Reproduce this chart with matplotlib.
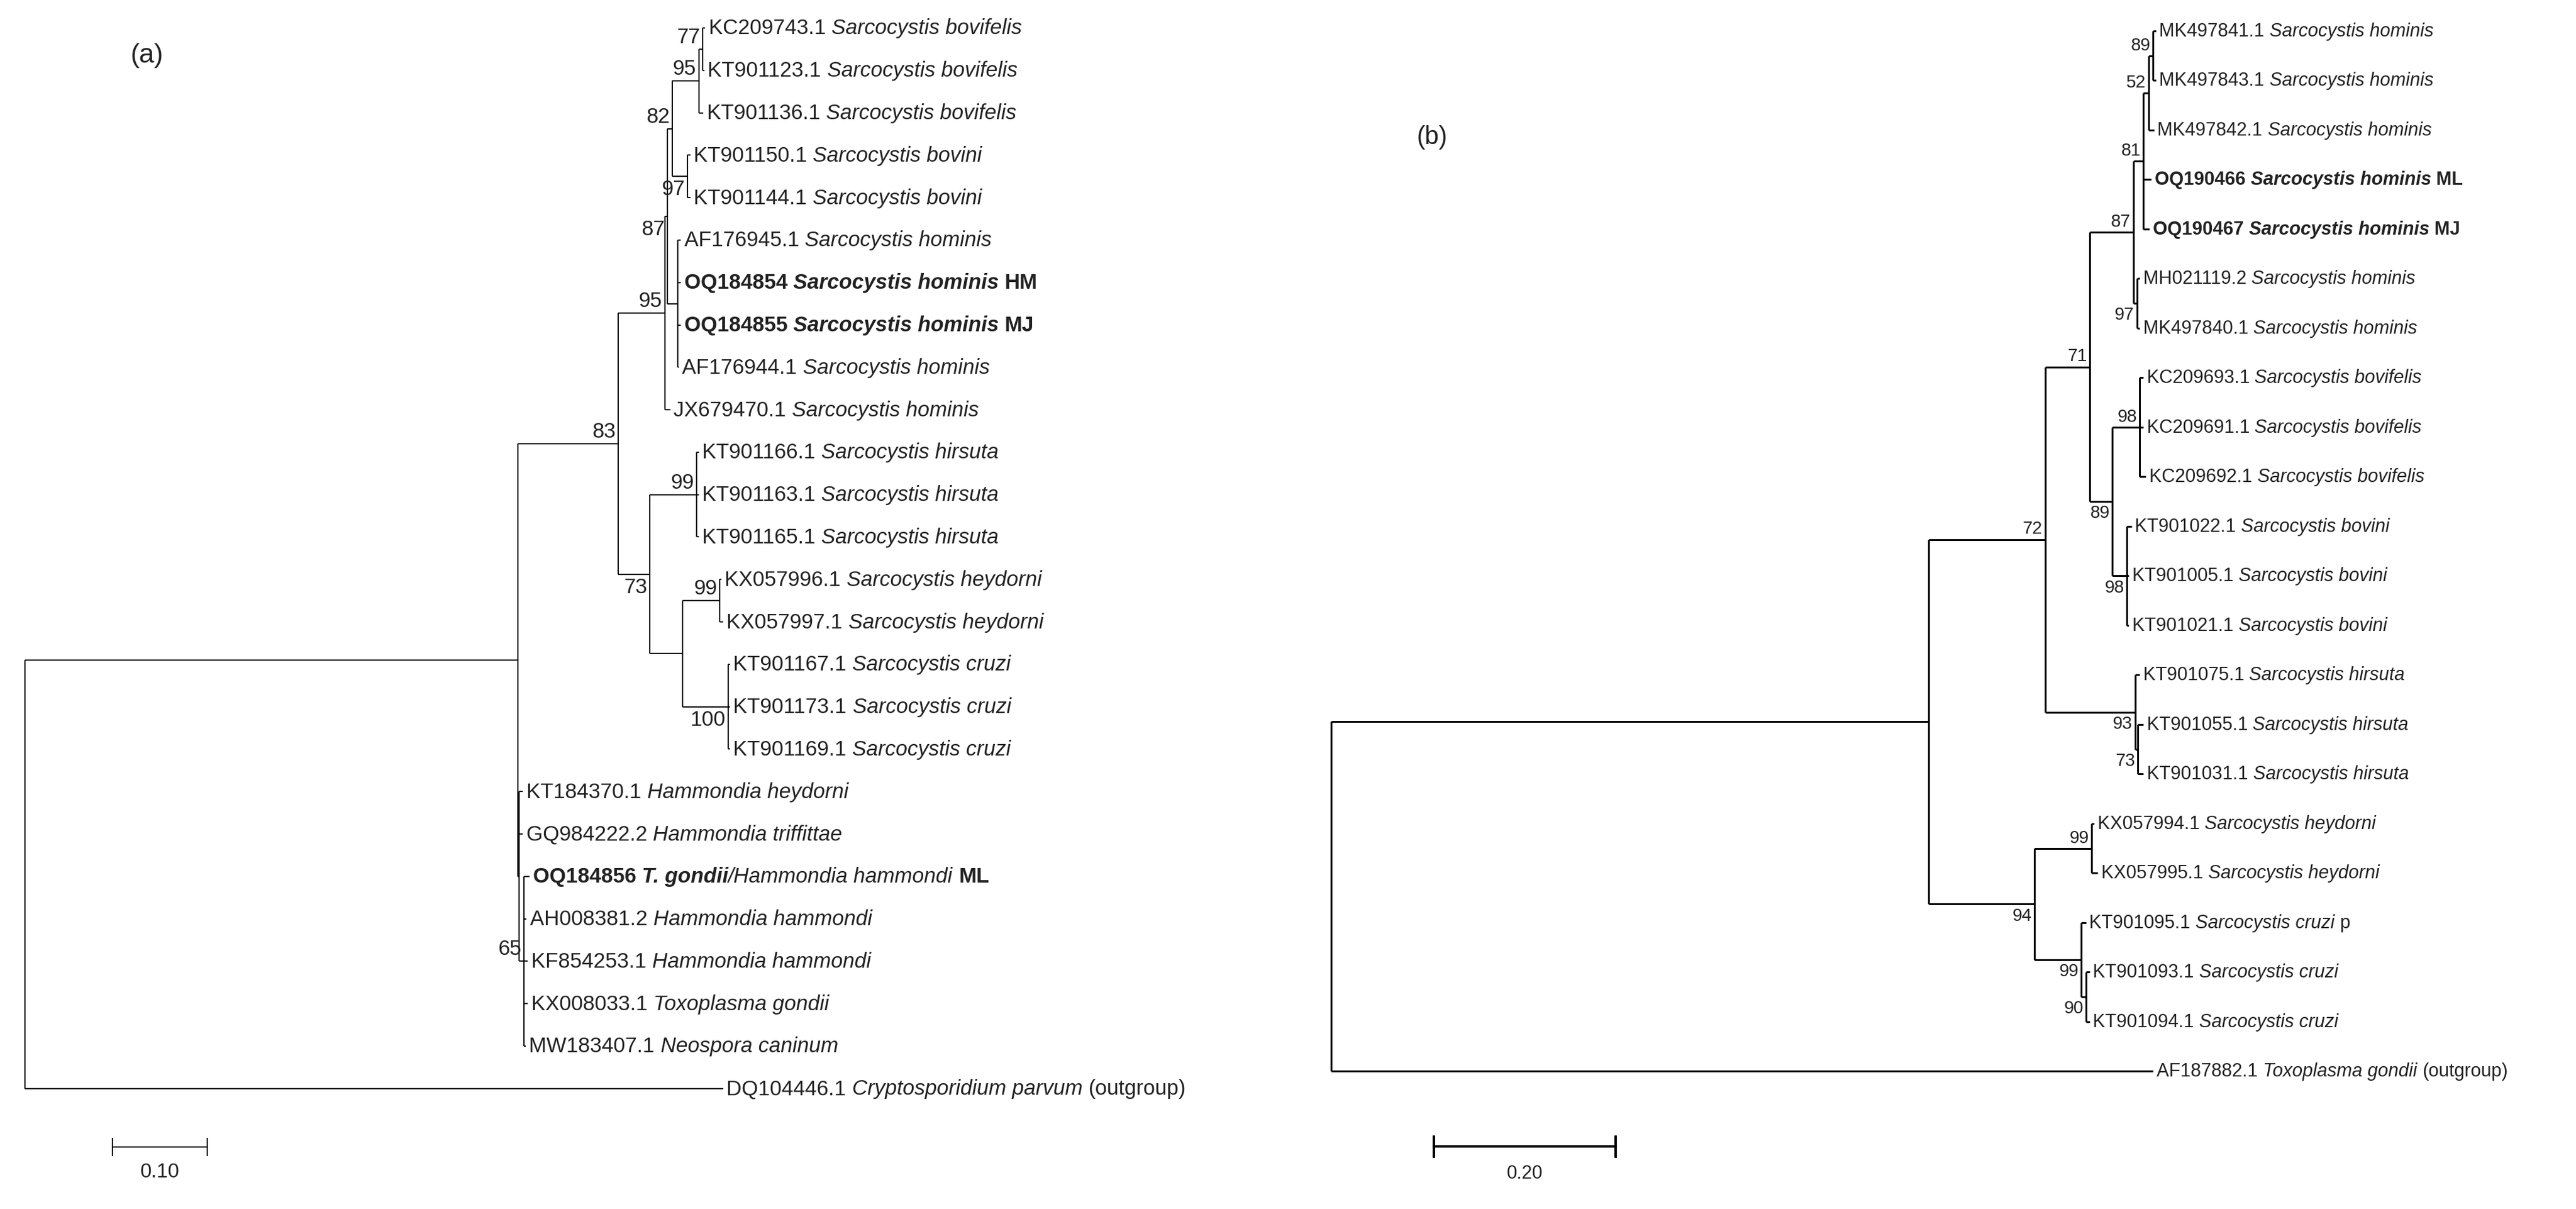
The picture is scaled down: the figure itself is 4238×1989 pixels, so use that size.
import matplotlib
matplotlib.use("Agg")
import matplotlib.pyplot as plt

plt.rcParams['font.family'] = ['Liberation Sans', 'DejaVu Sans']

# ---------------- Panel (a) data ----------------
a_leaf_names = ["KC209743.1", "KT901123.1", "KT901136.1", "KT901150.1", "KT901144.1",
                "AF176945.1", "OQ184854", "OQ184855", "AF176944.1", "JX679470.1",
                "KT901166.1", "KT901163.1", "KT901165.1", "KX057996.1", "KX057997.1",
                "KT901167.1", "KT901173.1", "KT901169.1", "KT184370.1", "GQ984222.2",
                "OQ184856", "AH008381.2", "KF854253.1", "KX008033.1", "MW183407.1", "DQ104446.1"]
a_leaf_species = ["Sarcocystis bovifelis"] * 3 + ["Sarcocystis bovini"] * 2 + ["Sarcocystis hominis"] * 5 + \
                 ["Sarcocystis hirsuta"] * 3 + ["Sarcocystis heydorni"] * 2 + ["Sarcocystis cruzi"] * 3 + \
                 ["Hammondia heydorni", "Hammondia triffittae", "T. gondii/Hammondia hammondi",
                  "Hammondia hammondi", "Hammondia hammondi", "Toxoplasma gondii", "Neospora caninum",
                  "Cryptosporidium parvum"]
a_leaf_suffix = [""] * 6 + ["HM", "MJ"] + [""] * 12 + ["ML"] + [""] * 4 + ["(outgroup)"]
a_leaf_bold = [False] * 6 + [True, True] + [False] * 12 + [True] + [False] * 5
a_leaf_parent = ["G", "G", "E", "F", "F", "D", "D", "D", "D", "A",
                 "Hirs", "Hirs", "Hirs", "Hey", "Hey", "Cru", "Cru", "Cru",
                 "H", "H", "S65", "S65", "S65", "S65", "S65", "root"]
a_leaf_depth = [0.720, 0.719, 0.718, 0.704, 0.704, 0.694, 0.694, 0.694, 0.692, 0.683,
                0.713, 0.713, 0.713, 0.737, 0.739, 0.746, 0.746, 0.746,
                0.527, 0.527, 0.534, 0.531, 0.532, 0.532, 0.530, 0.739]
a_node_names = ["root", "I1", "N83", "A", "B", "C", "E", "G", "F", "D", "N73", "Hirs", "N830", "Hey", "Cru", "H", "S65"]
a_node_parent = [None, "root", "I1", "N83", "A", "B", "C", "E", "C", "B", "N83", "N73", "N73", "N830", "N830", "I1", "H"]
a_node_depth = [0.0, 0.522, 0.628, 0.677, 0.680, 0.685, 0.713, 0.717, 0.701, 0.691, 0.661, 0.711, 0.696, 0.735, 0.744, 0.523, 0.528]
a_node_support = ["", "", "83", "95", "87", "82", "95", "77", "97", "", "73", "99", "", "99", "100", "", "65"]
a_node_side = ["a", "a", "a", "a", "b", "a", "a", "a", "b", "a", "b", "a", "a", "a", "b", "a", "a"]

# ---------------- Panel (b) data ----------------
b_leaf_names = ["MK497841.1", "MK497843.1", "MK497842.1", "OQ190466", "OQ190467", "MH021119.2", "MK497840.1",
                "KC209693.1", "KC209691.1", "KC209692.1", "KT901022.1", "KT901005.1", "KT901021.1",
                "KT901075.1", "KT901055.1", "KT901031.1", "KX057994.1", "KX057995.1",
                "KT901095.1", "KT901093.1", "KT901094.1", "AF187882.1"]
b_leaf_species = ["Sarcocystis hominis"] * 7 + ["Sarcocystis bovifelis"] * 3 + ["Sarcocystis bovini"] * 3 + \
                 ["Sarcocystis hirsuta"] * 3 + ["Sarcocystis heydorni"] * 2 + ["Sarcocystis cruzi"] * 3 + \
                 ["Toxoplasma gondii"]
b_leaf_suffix = ["", "", "", "ML", "MJ"] + [""] * 13 + ["p", "", "", "(outgroup)"]
b_leaf_bold = [False, False, False, True, True] + [False] * 17
b_leaf_parent = ["N89h", "N89h", "N52", "N81", "N81", "N97", "N97", "N98a", "N98a", "N98a",
                 "N98b", "N98b", "N98b", "Nh", "N73", "N73", "N99", "N99", "Nc", "N90", "N90", "root"]
b_leaf_depth = [0.908, 0.908, 0.906, 0.903, 0.901, 0.890, 0.890, 0.894, 0.894, 0.897,
                0.881, 0.878, 0.878, 0.890, 0.894, 0.894, 0.840, 0.844, 0.831, 0.835, 0.835, 0.905]
b_node_names = ["root", "R1", "N72", "N71", "N87", "N81", "N52", "N89h", "N97", "N89", "N98a", "N98b",
                "Nh", "N73", "N94", "N99", "Nc", "N90"]
b_node_parent = [None, "root", "R1", "N72", "N71", "N87", "N81", "N52", "N87", "N71", "N89", "N89",
                 "N72", "Nh", "R1", "N94", "N94", "Nc"]
b_node_depth = [0.0, 0.658, 0.786, 0.835, 0.883, 0.894, 0.900, 0.905, 0.887, 0.860, 0.890, 0.876,
                0.885, 0.888, 0.774, 0.837, 0.826, 0.831]
b_node_support = ["", "", "72", "71", "87", "81", "52", "89", "97", "89", "98", "98", "93", "73", "94", "99", "99", "90"]
b_node_side = ["a", "a", "a", "a", "a", "a", "a", "a", "b", "b", "a", "b", "b", "b", "b", "a", "b", "b"]

TXT = "#222222"


def draw_label(ax, x, y, name, species, suffix, bold, fs):
    pieces = []
    if bold:
        pieces.append((name + " ", "bold", "normal"))
        if "/" in species:
            a, b = species.split("/", 1)
            pieces.append((a, "bold", "italic"))
            pieces.append(("/" + b + " ", "normal", "italic"))
        else:
            pieces.append((species + " ", "bold", "italic"))
        pieces.append((suffix, "bold", "normal"))
    else:
        pieces.append((name + " ", "normal", "normal"))
        pieces.append((species + (" " if suffix else ""), "normal", "italic"))
        if suffix:
            pieces.append((suffix, "normal", "normal"))
    prev = None
    for txt, w, st in pieces:
        if prev is None:
            prev = ax.annotate(txt, (x, y), xytext=(4, 0), textcoords="offset points",
                               va="center", ha="left", fontsize=fs, fontweight=w, fontstyle=st, color=TXT)
        else:
            prev = ax.annotate(txt, xy=(1, 0), xycoords=prev, va="bottom", ha="left",
                               fontsize=fs, fontweight=w, fontstyle=st, color=TXT)


def draw_tree(ax, lnames, lspecies, lsuffix, lbold, lparent, ldepth,
              nnames, nparent, ndepth, nsupport, nside, lw, fs, bfs):
    depth = dict(zip(nnames, ndepth))
    children = {n: [] for n in nnames}
    ypos = {}
    for i, (nm, p) in enumerate(zip(lnames, lparent)):
        key = "leaf%d" % i
        ypos[key] = float(i)
        depth[key] = ldepth[i]
        children[p].append(key)
    for n, p in zip(nnames, nparent):
        if p is not None:
            children[p].append(n)

    def gety(n):
        if n in ypos:
            return ypos[n]
        ys = [gety(c) for c in children[n]]
        ypos[n] = (min(ys) + max(ys)) / 2
        return ypos[n]

    gety("root")
    for n in nnames:
        ys = [ypos[c] for c in children[n]]
        ax.plot([depth[n], depth[n]], [min(ys), max(ys)], color="black", lw=lw, solid_capstyle="butt")
        for c in children[n]:
            ax.plot([depth[n], depth[c]], [ypos[c], ypos[c]], color="black", lw=lw, solid_capstyle="butt")
    for n, s, side in zip(nnames, nsupport, nside):
        if s:
            dy = 3 if side == "a" else -3
            ax.annotate(s, (depth[n], ypos[n]), xytext=(-3, dy), textcoords="offset points",
                        ha="right", va="bottom" if side == "a" else "top", fontsize=bfs, color=TXT)
    for i in range(len(lnames)):
        draw_label(ax, ldepth[i], float(i), lnames[i], lspecies[i], lsuffix[i], lbold[i], fs)


fig = plt.figure(figsize=(42.38, 19.90), dpi=100)
axa = fig.add_axes([0, 0, 2120 / 4238, 1])
axb = fig.add_axes([2120 / 4238, 0, 2118 / 4238, 1])
for ax in (axa, axb):
    ax.set_axis_off()

axa.set_xlim(-0.0261, 1.337)
axa.set_ylim(27.84, -0.673)
axb.set_xlim(-0.0471, 1.3706)
axb.set_ylim(23.78, -0.638)

draw_tree(axa, a_leaf_names, a_leaf_species, a_leaf_suffix, a_leaf_bold, a_leaf_parent, a_leaf_depth,
          a_node_names, a_node_parent, a_node_depth, a_node_support, a_node_side, 1.5, 25, 25)
draw_tree(axb, b_leaf_names, b_leaf_species, b_leaf_suffix, b_leaf_bold, b_leaf_parent, b_leaf_depth,
          b_node_names, b_node_parent, b_node_depth, b_node_support, b_node_side, 2.2, 22, 21)

# scale bars
def scalebar(ax, x0, length, y, label, lw, fs):
    ax.plot([x0, x0 + length], [y, y], color="black", lw=lw)
    for xx in (x0, x0 + length):
        ax.plot([xx, xx], [y - 0.2, y + 0.2], color="black", lw=lw)
    ax.text(x0 + length / 2, y + 0.35, label, ha="center", va="top", fontsize=fs, color=TXT)

scalebar(axa, 0.093, 0.10, 26.38, "0.10", 1.5, 24)
scalebar(axb, 0.113, 0.20, 22.52, "0.20", 3, 22)

axa.text(0.129, 0.64, "(a)", fontsize=32, ha="center", va="center", color=TXT)
axb.text(0.111, 2.13, "(b)", fontsize=30, ha="center", va="center", color=TXT)

fig.savefig("out.png", dpi=100, facecolor="white")
